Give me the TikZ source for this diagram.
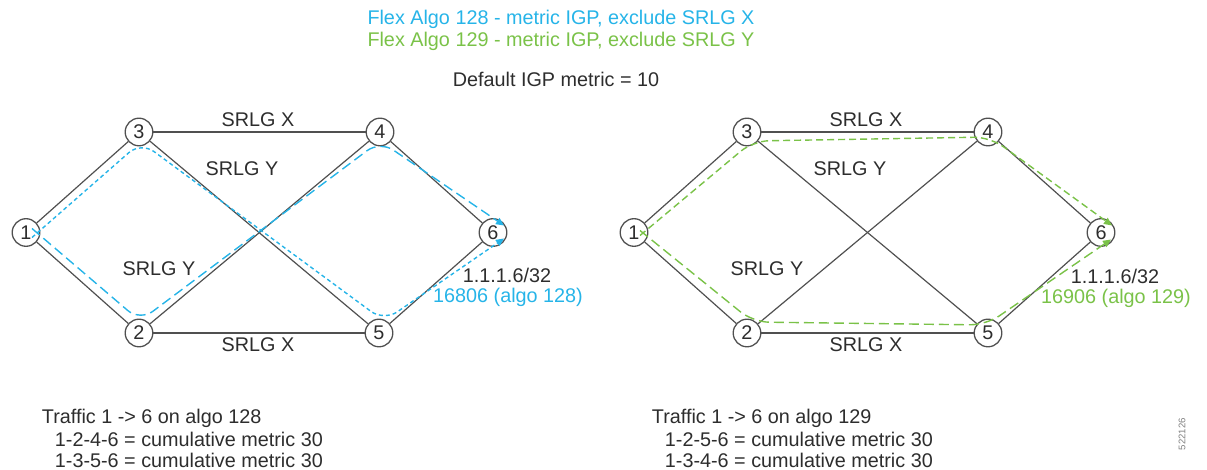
\documentclass[tikz,border=0pt]{standalone}
\usepackage{fontspec}
\setmainfont{Liberation Sans}
\usetikzlibrary{arrows.meta,calc}

\definecolor{algoblue}{RGB}{38,180,232}
\definecolor{algogreen}{RGB}{122,194,72}
\definecolor{edgegray}{RGB}{80,80,80}
\definecolor{labelgray}{RGB}{45,45,45}

\begin{document}
\begin{tikzpicture}[x=0.5pt,y=0.5pt,yscale=-1,xscale=1,
    router/.style={circle,draw=edgegray,line width=0.65pt,minimum size=13.8pt,inner sep=0pt,text=labelgray,font=\fontsize{9.9}{12}\selectfont},
    link/.style={draw=edgegray,line width=0.6pt},
    lbl/.style={anchor=base,inner sep=0.75pt,text=labelgray,font=\fontsize{9.9}{12}\selectfont},
    pathtip/.style={-{Triangle[length=4pt,width=3.6pt]},line width=0.7pt,rounded corners=8pt},
    shortdash/.style={dash pattern=on 2pt off 1.5pt},
    middash/.style={dash pattern=on 3.5pt off 2pt},
    longdash/.style={dash pattern=on 5pt off 2.5pt}]

  \useasboundingbox (0,0) rectangle (1207,470);

  %Shape: Circle -- left network
  \node[router] (a1) at (26,232.5) {1};
  \node[router] (a3) at (139,132) {3};
  \node[router] (a4) at (380,132) {4};
  \node[router] (a6) at (493,232.5) {6};
  \node[router] (a2) at (139,333) {2};
  \node[router] (a5) at (379,333) {5};
  %Shape: Circle -- right network
  \node[router] (b1) at (634,232.5) {1};
  \node[router] (b3) at (747,132) {3};
  \node[router] (b4) at (988,132) {4};
  \node[router] (b6) at (1101,232.5) {6};
  \node[router] (b2) at (747,333) {2};
  \node[router] (b5) at (988,333) {5};

  %Straight Lines -- links
  \draw[link] (a1) -- (a3);
  \draw[link] (a1) -- (a2);
  \draw[link] (a3) -- (a4);
  \draw[link] (a2) -- (a5);
  \draw[link] (a3) -- (a5);
  \draw[link] (a2) -- (a4);
  \draw[link] (a4) -- (a6);
  \draw[link] (a5) -- (a6);
  \draw[link] (b1) -- (b3);
  \draw[link] (b1) -- (b2);
  \draw[link] (b3) -- (b4);
  \draw[link] (b2) -- (b5);
  \draw[link] (b3) -- (b5);
  \draw[link] (b2) -- (b4);
  \draw[link] (b4) -- (b6);
  \draw[link] (b5) -- (b6);

  %Dashed Lines -- algo 128 paths
  \draw[algoblue,pathtip,shortdash] ($(a1)+(6,5)$) -- ($(a3)+(2,10)$) -- ($(a5)+(5,-12)$) -- ($(a6)+(11,6)$);
  \draw[algoblue,pathtip,longdash] ($(a1)+(6,-4)$) -- ($(a2)+(1,-12)$) -- ($(a4)+(0,9)$) -- ($(a6)+(11,-7)$);
  %Dashed Lines -- algo 129 paths
  \draw[algogreen,pathtip,middash] ($(b1)+(6,3)$) -- ($(b3)+(6,9)$) -- ($(b4)+(2,5)$) -- ($(b6)+(11,-7)$);
  \draw[algogreen,pathtip,longdash] ($(b1)+(6,-2)$) -- ($(b2)+(6,-11)$) -- ($(b5)+(-2,-8)$) -- ($(b6)+(10,7)$);

  % Text Node
  \node[lbl,text=algoblue] (flex128) at (561,25) {Flex Algo 128 - metric IGP, exclude SRLG X};
  % Text Node
  \node[lbl,text=algogreen] (flex129) at (561,47) {Flex Algo 129 - metric IGP, exclude SRLG Y};
  % Text Node
  \node[lbl] (igp) at (556,87) {Default IGP metric = 10};

  % Text Node
  \node[lbl] (ax34) at (258,127) {SRLG X};
  \node[lbl] (ay35) at (242,176) {SRLG Y};
  \node[lbl] (ay24) at (159,276) {SRLG Y};
  \node[lbl] (ax25) at (258,352) {SRLG X};
  \node[lbl] (apfx) at (507,283) {1.1.1.6/32};
  \node[lbl,text=algoblue] (asid) at (508,303) {16806 (algo 128)};
  % Text Node
  \node[lbl] (bx34) at (866,127) {SRLG X};
  \node[lbl] (by35) at (850,176) {SRLG Y};
  \node[lbl] (by24) at (767,276) {SRLG Y};
  \node[lbl] (bx25) at (866,352) {SRLG X};
  \node[lbl] (bpfx) at (1115,284) {1.1.1.6/32};
  \node[lbl,text=algogreen] (bsid) at (1116,304) {16906 (algo 129)};

  % Text Node
  \node[lbl,anchor=base west] (atraffic) at (40,424) {Traffic 1 -> 6 on algo 128};
  \node[lbl,anchor=base west] (apath1) at (53,447) {1-2-4-6 = cumulative metric 30};
  \node[lbl,anchor=base west] (apath2) at (53,468) {1-3-5-6 = cumulative metric 30};
  % Text Node
  \node[lbl,anchor=base west] (btraffic) at (650,424) {Traffic 1 -> 6 on algo 129};
  \node[lbl,anchor=base west] (bpath1) at (663,447) {1-2-5-6 = cumulative metric 30};
  \node[lbl,anchor=base west] (bpath2) at (663,468) {1-3-4-6 = cumulative metric 30};

  % Text Node
  \node[rotate=90,inner sep=0pt,text=gray,font=\fontsize{4.8}{6}\selectfont] (figid) at (1182,434) {522126};
\end{tikzpicture}
\end{document}
